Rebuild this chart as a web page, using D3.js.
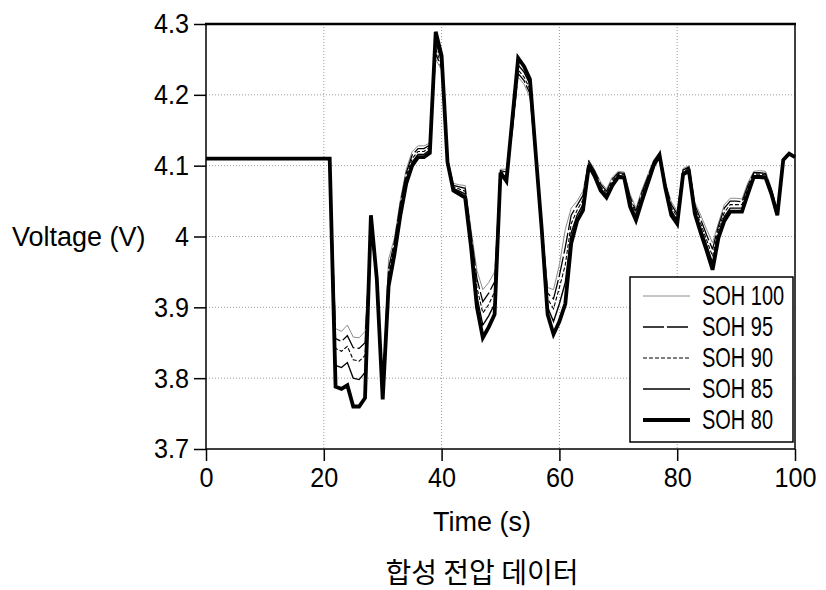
<!DOCTYPE html>
<html>
<head>
<meta charset="utf-8">
<script src="https://cdn.jsdelivr.net/npm/d3@7"></script>
<style>
  body { margin: 0; background: #fff; }
  text { font-family: "Liberation Sans", Arial, sans-serif; fill: #000; }
  .title-kr { font-family: "Noto Sans CJK KR", "Noto Sans CJK SC", sans-serif; }
</style>
</head>
<body>
<div id="chart"></div>
<script>
// time axis (s) shared by all series
const time = [0, 21,
  22, 23, 24, 25, 26, 27, 28, 29, 30,
  31, 32, 33, 34, 35, 36, 37, 38, 39, 40,
  41, 42, 43, 44, 45, 46, 47, 48, 49, 50,
  51, 52, 53, 54, 55, 56, 57, 58, 59, 60,
  61, 62, 63, 64, 65, 66, 67, 68, 69, 70,
  71, 72, 73, 74, 75, 76, 77, 78, 79, 80,
  81, 82, 83, 84, 85, 86, 87, 88, 89, 90,
  91, 92, 93, 94, 95, 96, 97, 98, 99, 100];

const soh100 = [4.110, 4.110,
  3.870, 3.866, 3.875, 3.858, 3.857, 3.866, 4.000, 3.952, 3.782,
  3.968, 3.998, 4.052, 4.095, 4.120, 4.128, 4.128, 4.132, 4.250, 4.235,
  4.108, 4.075, 4.073, 4.072, 4.010, 3.952, 3.925, 3.935, 3.950, 4.095,
  4.095, 4.145, 4.225, 4.215, 4.196, 4.106, 4.020, 3.928, 3.925, 3.960,
  4.010, 4.040, 4.050, 4.064, 4.108, 4.094, 4.077, 4.067, 4.084, 4.092,
  4.091, 4.060, 4.040, 4.066, 4.087, 4.108, 4.119, 4.076, 4.049, 4.036,
  4.096, 4.100, 4.048, 4.030, 4.010, 3.991, 4.019, 4.045, 4.054, 4.054,
  4.053, 4.076, 4.092, 4.093, 4.092, 4.068, 4.038, 4.108, 4.116, 4.112];

const soh95 = [4.110, 4.110,
  3.856, 3.852, 3.860, 3.843, 3.842, 3.850, 4.006, 3.950, 3.778,
  3.955, 3.993, 4.047, 4.090, 4.115, 4.124, 4.124, 4.129, 4.258, 4.238,
  4.107, 4.072, 4.070, 4.068, 4.004, 3.940, 3.908, 3.920, 3.936, 4.093,
  4.091, 4.150, 4.230, 4.220, 4.202, 4.108, 4.018, 3.920, 3.912, 3.945,
  3.985, 4.030, 4.044, 4.058, 4.106, 4.092, 4.074, 4.064, 4.081, 4.090,
  4.089, 4.056, 4.036, 4.062, 4.084, 4.106, 4.118, 4.074, 4.045, 4.032,
  4.094, 4.098, 4.044, 4.024, 4.002, 3.982, 4.015, 4.040, 4.050, 4.050,
  4.049, 4.072, 4.090, 4.090, 4.089, 4.066, 4.036, 4.108, 4.116, 4.112];

const soh90 = [4.110, 4.110,
  3.842, 3.838, 3.845, 3.826, 3.824, 3.832, 4.012, 3.948, 3.775,
  3.948, 3.988, 4.042, 4.085, 4.110, 4.120, 4.120, 4.126, 4.265, 4.242,
  4.106, 4.070, 4.067, 4.064, 3.998, 3.928, 3.892, 3.904, 3.922, 4.092,
  4.087, 4.155, 4.235, 4.225, 4.208, 4.110, 4.015, 3.912, 3.898, 3.928,
  3.960, 4.018, 4.037, 4.052, 4.104, 4.090, 4.071, 4.061, 4.078, 4.088,
  4.087, 4.052, 4.032, 4.058, 4.081, 4.104, 4.117, 4.072, 4.041, 4.028,
  4.092, 4.096, 4.040, 4.018, 3.995, 3.972, 4.010, 4.034, 4.045, 4.045,
  4.045, 4.068, 4.088, 4.088, 4.087, 4.064, 4.034, 4.108, 4.116, 4.112];

const soh85 = [4.110, 4.110,
  3.818, 3.815, 3.822, 3.800, 3.798, 3.808, 4.020, 3.945, 3.772,
  3.940, 3.982, 4.036, 4.080, 4.105, 4.116, 4.116, 4.122, 4.275, 4.248,
  4.105, 4.068, 4.064, 4.060, 3.992, 3.915, 3.875, 3.888, 3.905, 4.091,
  4.083, 4.160, 4.242, 4.232, 4.215, 4.112, 4.012, 3.900, 3.880, 3.905,
  3.935, 4.005, 4.030, 4.045, 4.102, 4.088, 4.068, 4.058, 4.075, 4.086,
  4.085, 4.047, 4.028, 4.054, 4.078, 4.102, 4.116, 4.070, 4.036, 4.023,
  4.090, 4.094, 4.036, 4.012, 3.988, 3.963, 4.004, 4.028, 4.040, 4.040,
  4.040, 4.064, 4.086, 4.086, 4.085, 4.062, 4.032, 4.108, 4.116, 4.112];

const soh80 = [4.110, 4.110,
  3.788, 3.785, 3.790, 3.760, 3.760, 3.772, 4.030, 3.940, 3.770,
  3.930, 3.975, 4.030, 4.075, 4.100, 4.112, 4.112, 4.118, 4.289, 4.255,
  4.105, 4.065, 4.060, 4.055, 3.985, 3.900, 3.857, 3.872, 3.890, 4.090,
  4.078, 4.165, 4.252, 4.240, 4.222, 4.115, 4.010, 3.890, 3.862, 3.880,
  3.905, 3.990, 4.022, 4.037, 4.100, 4.085, 4.065, 4.055, 4.072, 4.084,
  4.083, 4.042, 4.023, 4.050, 4.075, 4.100, 4.115, 4.068, 4.030, 4.018,
  4.088, 4.092, 4.032, 4.005, 3.980, 3.953, 3.998, 4.022, 4.035, 4.035,
  4.035, 4.060, 4.084, 4.084, 4.083, 4.060, 4.030, 4.108, 4.117, 4.112];

const seriesNames = ["SOH 100", "SOH 95", "SOH 90", "SOH 85", "SOH 80"];
const seriesValues = [soh100, soh95, soh90, soh85, soh80];

const xTicks = [0, 20, 40, 60, 80, 100];
const xTickLabels = ["0", "20", "40", "60", "80", "100"];
const yTicks = [3.7, 3.8, 3.9, 4.0, 4.1, 4.2, 4.3];
const yTickLabels = ["3.7", "3.8", "3.9", "4", "4.1", "4.2", "4.3"];

// line look for each series, same order as seriesNames
const styles = [
  { stroke: "#8c8c8c", width: 1, dash: null },
  { stroke: "#000", width: 1.3, dash: "21,3" },
  { stroke: "#000", width: 1.1, dash: "4,2" },
  { stroke: "#000", width: 1.4, dash: null },
  { stroke: "#000", width: 3.8, dash: null }
];

const margin = { top: 24, right: 31, bottom: 141, left: 206 };
const width = 826 - margin.left - margin.right;
const height = 590 - margin.top - margin.bottom;

const root = d3.select("#chart").append("svg")
    .attr("width", 826)
    .attr("height", 590);

const svg = root.append("g")
    .attr("transform", `translate(${margin.left},${margin.top})`);

const x = d3.scaleLinear().domain([0, 100]).range([0, width]);
const y = d3.scaleLinear().domain([3.7, 4.3]).range([height, 0]);

// dotted grid
svg.append("g").selectAll("line")
    .data(xTicks.slice(1, -1))
    .enter().append("line")
    .attr("x1", d => x(d)).attr("x2", d => x(d))
    .attr("y1", 0).attr("y2", height)
    .attr("stroke", "#9a9a9a")
    .attr("stroke-width", 1)
    .attr("stroke-dasharray", "1,2");

svg.append("g").selectAll("line")
    .data(yTicks.slice(1, -1))
    .enter().append("line")
    .attr("x1", 0).attr("x2", width)
    .attr("y1", d => y(d)).attr("y2", d => y(d))
    .attr("stroke", "#9a9a9a")
    .attr("stroke-width", 1)
    .attr("stroke-dasharray", "1,2");

// axes (labels squeezed a little: the source font is narrow)
const squeeze = 0.9;

const yAxis = svg.append("g")
    .call(d3.axisLeft(y)
        .tickValues(yTicks)
        .tickFormat((d, i) => yTickLabels[i])
        .tickSize(12)
        .tickPadding(5));

const xAxis = svg.append("g")
    .attr("transform", `translate(0,${height})`)
    .call(d3.axisBottom(x)
        .tickValues(xTicks)
        .tickFormat((d, i) => xTickLabels[i])
        .tickSize(12)
        .tickPadding(6));

[yAxis, xAxis].forEach(a => {
    a.select(".domain").remove();
    a.selectAll(".tick line").attr("stroke", "#000").attr("stroke-width", 1.5);
    a.selectAll(".tick text")
        .style("font-size", "28px")
        .style("font-family", "\"Liberation Sans\", Arial, sans-serif")
        .attr("transform", `scale(${squeeze},1)`);
});
yAxis.selectAll(".tick text").attr("x", -17 / squeeze);

// curves, thickest last so it sits on top
const line = d3.line()
    .x((d, i) => x(time[i]))
    .y(d => y(d));

svg.append("g").selectAll("path")
    .data(seriesValues)
    .enter().append("path")
    .attr("d", d => line(d))
    .attr("fill", "none")
    .attr("stroke", (d, i) => styles[i].stroke)
    .attr("stroke-width", (d, i) => styles[i].width)
    .attr("stroke-dasharray", (d, i) => styles[i].dash)
    .attr("stroke-linejoin", "miter")
    .attr("stroke-miterlimit", 3);

// frame
svg.append("rect")
    .attr("x", 0).attr("y", 0)
    .attr("width", width).attr("height", height)
    .attr("fill", "none")
    .attr("stroke", "#000")
    .attr("stroke-width", 1.5);

svg.append("line")
    .attr("x1", -1).attr("x2", width + 1)
    .attr("y1", 0).attr("y2", 0)
    .attr("stroke", "#000")
    .attr("stroke-width", 2.6);

// legend
const legend = svg.append("g")
    .attr("transform", `translate(${424},${253})`);

legend.append("rect")
    .attr("width", 163).attr("height", 165)
    .attr("fill", "#fff")
    .attr("stroke", "#000")
    .attr("stroke-width", 1.5);

const rows = legend.selectAll(".row")
    .data(seriesNames)
    .enter().append("g")
    .attr("class", "row")
    .attr("transform", (d, i) => `translate(0,${19 + i * 31})`);

rows.append("line")
    .attr("x1", 13).attr("x2", 60)
    .attr("y1", 0).attr("y2", 0)
    .attr("stroke", (d, i) => styles[i].stroke)
    .attr("stroke-width", (d, i) => styles[i].width)
    .attr("stroke-dasharray", (d, i) => styles[i].dash);

rows.append("text")
    .attr("transform", "translate(72,0) scale(0.74,1)")
    .attr("dy", "0.35em")
    .style("font-size", "27px")
    .text(d => d);

// titles
root.append("text")
    .attr("x", 12)
    .attr("y", 237)
    .attr("dy", "0.35em")
    .style("font-size", "27px")
    .text("Voltage (V)");

root.append("text")
    .attr("x", 482)
    .attr("y", 522)
    .attr("dy", "0.35em")
    .attr("text-anchor", "middle")
    .style("font-size", "27px")
    .text("Time (s)");

root.append("text")
    .attr("class", "title-kr")
    .attr("x", 482)
    .attr("y", 573)
    .attr("dy", "0.35em")
    .attr("text-anchor", "middle")
    .style("font-size", "28px")
    .text("합성 전압 데이터");
</script>
</body>
</html>
